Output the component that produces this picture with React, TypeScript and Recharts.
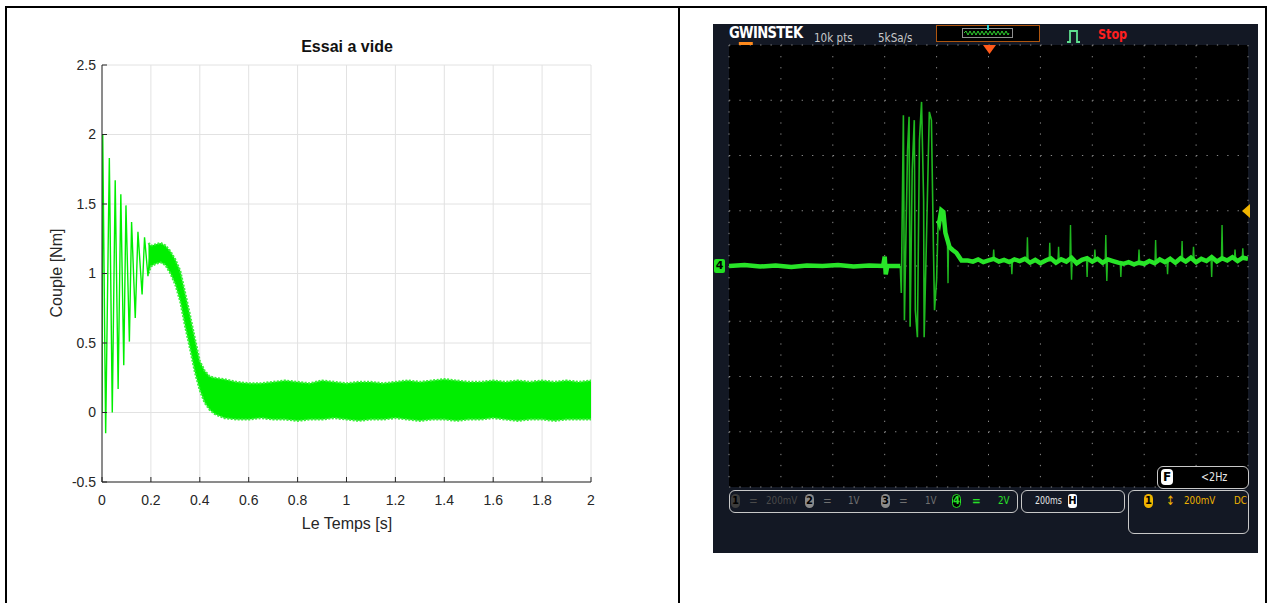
import React from "react";
import { ComposedChart, LineChart, Line, Area, XAxis, YAxis, CartesianGrid } from "recharts";

// ---------- left panel: simulated torque, "Essai a vide"
const timeTicks = [0, 0.2, 0.4, 0.6, 0.8, 1, 1.2, 1.4, 1.6, 1.8, 2];
const coupleTicks = [-0.5, 0, 0.5, 1, 1.5, 2, 2.5];

// start-up oscillation, turning points
const startT = [0, 0.003, 0.015, 0.03, 0.042, 0.054, 0.066, 0.077, 0.089, 0.098, 0.112, 0.121, 0.136, 0.147, 0.164, 0.174, 0.188, 0.2];
const startV = [0, 2.0, -0.15, 1.83, 0.0, 1.67, 0.17, 1.57, 0.34, 1.49, 0.51, 1.37, 0.68, 1.3, 0.85, 1.26, 0.98, 1.2];

// ripple band afterwards (lower / upper envelope)
const bandT = [0.19, 0.2, 0.22, 0.24, 0.26, 0.28, 0.3, 0.32, 0.34, 0.36, 0.38, 0.4, 0.42, 0.44, 0.46, 0.5, 0.55, 0.6, 0.65, 0.7, 0.75, 0.8, 0.85, 0.9, 0.95, 1.0, 1.05, 1.1, 1.15, 1.2, 1.25, 1.3, 1.35, 1.4, 1.45, 1.5, 1.55, 1.6, 1.65, 1.7, 1.75, 1.8, 1.85, 1.9, 1.95, 2.0];
const bandHi = [1.22, 1.2, 1.21, 1.22, 1.2, 1.16, 1.1, 1.02, 0.86, 0.7, 0.53, 0.37, 0.3, 0.26, 0.25, 0.24, 0.22, 0.21, 0.21, 0.22, 0.23, 0.22, 0.21, 0.23, 0.22, 0.21, 0.22, 0.22, 0.21, 0.22, 0.23, 0.22, 0.23, 0.24, 0.23, 0.22, 0.22, 0.23, 0.22, 0.23, 0.22, 0.23, 0.22, 0.23, 0.22, 0.23];
const bandLo = [1.0, 1.05, 1.07, 1.08, 1.06, 1.0, 0.92, 0.8, 0.62, 0.46, 0.29, 0.16, 0.07, 0.02, -0.01, -0.04, -0.05, -0.05, -0.04, -0.05, -0.05, -0.06, -0.05, -0.05, -0.04, -0.05, -0.06, -0.05, -0.05, -0.04, -0.05, -0.06, -0.05, -0.05, -0.06, -0.05, -0.05, -0.04, -0.05, -0.06, -0.05, -0.05, -0.06, -0.05, -0.05, -0.05];

// ---------- right panel: scope capture, values in divisions
const divX = [0, 1, 2, 3, 4, 5, 6, 7, 8, 9, 10];
const divY = [-4, -3, -2, -1, 0, 1, 2, 3, 4];
const fineX = Array.from({ length: 51 }, (_, i) => i / 5);
const fineY = Array.from({ length: 41 }, (_, i) => -4 + i / 5);

const preX = [0, 0.3, 0.6, 0.9, 1.2, 1.5, 1.8, 2.1, 2.4, 2.7, 2.97, 3.0, 3.02, 3.05, 3.3];
const preY = [0, 0.02, -0.01, 0.01, -0.02, 0.01, 0, 0.02, -0.01, 0.01, 0, 0.17, -0.15, 0, 0];

const burstX = [3.3, 3.32, 3.36, 3.38, 3.44, 3.47, 3.49, 3.53, 3.57, 3.59, 3.63, 3.67, 3.71, 3.75, 3.76, 3.8, 3.86, 3.9, 3.94, 3.96, 4.0, 4.03];
const burstY = [0, -0.49, 2.73, -0.98, 2.1, 2.7, -1.1, 1.74, 2.64, -0.8, -1.29, 2.28, 2.97, 1.19, -1.29, 0.29, 2.79, 2.64, 0.29, -0.8, -0.25, 0.83];

const postX = [4.03, 4.05, 4.09, 4.13, 4.17, 4.21, 4.25, 4.31, 4.38, 4.48, 4.6, 4.7, 4.8, 4.9, 5.0, 5.1, 5.2, 5.3, 5.4, 5.5, 5.6, 5.7, 5.8, 5.9, 6.0, 6.1, 6.2, 6.3, 6.4, 6.5, 6.6, 6.7, 6.8, 6.9, 7.0, 7.1, 7.2, 7.3, 7.4, 7.5, 7.6, 7.7, 7.8, 7.9, 8.0, 8.1, 8.2, 8.3, 8.4, 8.5, 8.6, 8.7, 8.8, 8.9, 9.0, 9.1, 9.2, 9.3, 9.4, 9.5, 9.6, 9.7, 9.8, 9.9, 10];
const postY = [0.83, 0.78, 1.01, 0.98, 0.6, 0.47, 0.34, 0.29, 0.24, 0.1, 0.1, 0.08, 0.12, 0.07, 0.1, 0.13, 0.08, 0.11, 0.07, 0.12, 0.09, 0.13, 0.06, 0.11, 0.05, 0.1, 0.14, 0.06, 0.12, 0.08, 0.15, 0.05, 0.11, 0.14, 0.08, 0.13, 0.06, 0.12, 0.09, 0.06, 0.04, 0.07, 0.03, 0.06, 0.04, 0.09, 0.05, 0.12, 0.07, 0.13, 0.06, 0.14, 0.08, 0.15, 0.07, 0.13, 0.09, 0.16, 0.08, 0.14, 0.1, 0.16, 0.09, 0.15, 0.13];

const spikeX = [4.22, 5.1, 5.45, 5.75, 6.18, 6.35, 6.58, 6.6, 6.9, 7.05, 7.26, 7.28, 7.55, 7.9, 8.22, 8.45, 8.73, 8.95, 9.3, 9.5, 9.75, 9.9];
const spikeTop = [-0.31, 0.3, -0.15, 0.52, 0.42, 0.35, 0.74, -0.25, -0.2, 0.3, 0.56, -0.27, -0.2, 0.3, 0.47, -0.15, 0.45, 0.35, -0.2, 0.74, 0.3, 0.32];
const spikeBase = [0.45, 0.12, 0.09, 0.1, 0.08, 0.08, 0.12, 0.12, 0.12, 0.12, 0.08, 0.08, 0.05, 0.06, 0.08, 0.08, 0.1, 0.12, 0.14, 0.13, 0.14, 0.14];

const SANS = "'Liberation Sans', Arial, Helvetica, sans-serif";
const COND = "'DejaVu Sans', 'Liberation Sans', sans-serif";
const MGREEN = "#00ee00";
const SGREEN = "#28e428";

const zip = (xs: number[], ys: number[]) => xs.map((x, i) => ({ x, y: ys[i] }));

function Txt({ x, y, size = 12, color = "#ccc", bold = false, font = COND, children, w, align, sx = 0.8 }: any) {
  return (
    <div style={{
      position: "absolute", left: x, top: y, fontSize: size, lineHeight: `${size + 2}px`,
      color, fontWeight: bold ? 700 : 400, fontFamily: font, whiteSpace: "nowrap",
      width: w, textAlign: align, transform: sx !== 1 ? `scaleX(${sx})` : undefined, transformOrigin: "left center",
    }}>{children}</div>
  );
}

function Badge({ x, y, bg, fg = "#000", label, border, round = 5 }: any) {
  return (
    <div style={{
      position: "absolute", left: x, top: y, width: 9, height: 14, borderRadius: round, boxSizing: "border-box",
      background: bg, border: border ? `1.5px solid ${border}` : undefined, color: fg,
      fontSize: 10, lineHeight: border ? "11px" : "14px", textAlign: "center", fontWeight: 700, fontFamily: COND,
    }}>{label}</div>
  );
}

function SimChart() {
  const start = startT.map((t, i) => ({ t, v: startV[i] }));
  const band = bandT.map((t, i) => ({ t, r: [bandLo[i], bandHi[i]] }));
  const tick = { fill: "#262626", fontSize: 14, fontFamily: SANS };
  return (
    <ComposedChart width={679} height={560} margin={{ top: 65, right: 88, bottom: 38, left: 52 }}>
      <CartesianGrid stroke="#e2e2e2" />
      <XAxis dataKey="t" type="number" domain={[0, 2]} ticks={timeTicks} interval={0} allowDataOverflow
        height={40} stroke="#262626" tickSize={-5} tickMargin={18} tick={tick} />
      <YAxis type="number" domain={[-0.5, 2.5]} ticks={coupleTicks} interval={0} allowDataOverflow
        width={50} stroke="#262626" tickSize={-5} tickMargin={11} tick={tick} />
      <XAxis xAxisId="top" orientation="top" dataKey="t" type="number" domain={[0, 2]} ticks={timeTicks}
        interval={0} allowDataOverflow height={0} mirror tickSize={5} tickFormatter={() => ""} stroke="#262626" />
      <YAxis yAxisId="right" orientation="right" type="number" domain={[-0.5, 2.5]} ticks={coupleTicks}
        interval={0} allowDataOverflow width={0} mirror tickSize={5} tickFormatter={() => ""} stroke="#262626" />
      <Area data={band} dataKey="r" type="linear" stroke="#3af03a" fill={MGREEN} fillOpacity={1}
        strokeWidth={2.2} strokeDasharray="2 1.5" isAnimationActive={false} dot={false} activeDot={false} />
      <Line data={start} dataKey="v" type="linear" stroke={MGREEN} strokeWidth={1.4}
        dot={false} activeDot={false} isAnimationActive={false} />
    </ComposedChart>
  );
}

function ScopeChart() {
  const pre = zip(preX, preY);
  const burst = zip(burstX, burstY);
  const post = zip(postX, postY);
  const spikes = spikeX.flatMap((x, i) => [
    { x: x - 0.012, y: spikeBase[i] }, { x, y: spikeTop[i] }, { x: x + 0.012, y: spikeBase[i] }, { x: x + 0.02, y: null },
  ]);
  const edge = { stroke: "#6a6a6a" };
  return (
    <LineChart width={545} height={529} margin={{ top: 21, right: 10, bottom: 66, left: 16 }}>
      <CartesianGrid horizontal={false} stroke="#8a8a8a" strokeDasharray="1.3 9.75" />
      <CartesianGrid vertical={false} stroke="#8a8a8a" strokeDasharray="1.3 9.08" />
      <XAxis dataKey="x" type="number" domain={[0, 10]} ticks={divX} interval={0} allowDataOverflow
        height={0} axisLine={false} tickLine={false} tickFormatter={() => ""} />
      <YAxis type="number" domain={[-4, 4]} ticks={divY} interval={0} allowDataOverflow
        width={0} axisLine={false} tickLine={false} tickFormatter={() => ""} />
      <XAxis xAxisId="t" orientation="top" type="number" domain={[0, 10]} ticks={fineX} interval={0}
        allowDataOverflow height={0} mirror tickSize={3} tickFormatter={() => ""} {...edge} />
      <XAxis xAxisId="b" orientation="bottom" type="number" domain={[0, 10]} ticks={fineX} interval={0}
        allowDataOverflow height={0} mirror tickSize={3} tickFormatter={() => ""} {...edge} />
      <YAxis yAxisId="l" orientation="left" type="number" domain={[-4, 4]} ticks={fineY} interval={0}
        allowDataOverflow width={0} mirror tickSize={3} tickFormatter={() => ""} {...edge} />
      <YAxis yAxisId="r" orientation="right" type="number" domain={[-4, 4]} ticks={fineY} interval={0}
        allowDataOverflow width={0} mirror tickSize={3} tickFormatter={() => ""} {...edge} />
      <Line data={burst} dataKey="y" type="linear" stroke="#1fb81f" strokeWidth={1.6} dot={false}
        activeDot={false} isAnimationActive={false} />
      <Line data={spikes} dataKey="y" type="linear" stroke="#1fb81f" strokeWidth={1.4} dot={false}
        activeDot={false} isAnimationActive={false} connectNulls={false} />
      <Line data={pre} dataKey="y" type="linear" stroke={SGREEN} strokeWidth={4.5} dot={false}
        activeDot={false} isAnimationActive={false} />
      <Line data={post} dataKey="y" type="linear" stroke={SGREEN} strokeWidth={4.5} dot={false}
        activeDot={false} isAnimationActive={false} />
    </LineChart>
  );
}

const boxStyle = (x: number, y: number, w: number, h: number): React.CSSProperties => ({
  position: "absolute", left: x, top: y, width: w, height: h, border: "1.5px solid #c8c8c8",
  borderRadius: 6, boxSizing: "border-box", background: "#000",
});

export default function App() {
  return (
    <div style={{ position: "absolute", left: 0, top: 0, width: 1268, height: 603, background: "#fff", overflow: "hidden" }}>
      {/* table rules */}
      <div style={{ position: "absolute", left: 5, top: 6, width: 1262, height: 2, background: "#000" }} />
      <div style={{ position: "absolute", left: 5, top: 6, width: 2, height: 600, background: "#000" }} />
      <div style={{ position: "absolute", left: 678, top: 6, width: 2, height: 600, background: "#000" }} />
      <div style={{ position: "absolute", left: 1265, top: 6, width: 2, height: 600, background: "#000" }} />

      {/* left: simulation */}
      <div style={{ position: "absolute", left: 0, top: 0 }}>
        <SimChart />
      </div>
      <Txt x={247} y={38} w={200} align="center" size={16} bold color="#111" font={SANS} sx={1}>Essai a vide</Txt>
      <Txt x={247} y={515} w={200} align="center" size={16} color="#262626" font={SANS} sx={1}>Le Temps [s]</Txt>
      <div style={{
        position: "absolute", left: -13, top: 264, width: 140, height: 18, transform: "rotate(-90deg)",
        fontFamily: SANS, fontSize: 16, lineHeight: "18px", textAlign: "center", color: "#262626",
      }}>Couple [Nm]</div>

      {/* right: scope screen */}
      <div style={{ position: "absolute", left: 713, top: 24, width: 545, height: 529, background: "#131824" }} />
      <div style={{ position: "absolute", left: 729, top: 45, width: 519, height: 442, background: "#000" }} />
      <div style={{ position: "absolute", left: 713, top: 24 }}>
        <ScopeChart />
      </div>

      {/* header */}
      <div style={{ position: "absolute", left: 729, top: 24, fontFamily: COND, fontSize: 16, lineHeight: "18px", fontWeight: 700, color: "#fff", letterSpacing: -0.8, transform: "scaleX(0.82)", transformOrigin: "left center" }}>
        G<span style={{ borderBottom: "3px solid #ff8a1c" }}>W</span>INSTEK
      </div>
      <Txt x={814} y={30} size={13} color="#c8c8c8">10k pts</Txt>
      <Txt x={878} y={30} size={13} color="#c8c8c8">5kSa/s</Txt>
      <div style={{ position: "absolute", left: 936, top: 25, width: 104, height: 17, border: "1px solid #b0560f", boxSizing: "border-box", background: "#000" }} />
      <div style={{ position: "absolute", left: 962, top: 28, width: 51, height: 10, border: "1px solid #909090", boxSizing: "border-box" }} />
      <svg style={{ position: "absolute", left: 964, top: 30 }} width={47} height={6}>
        <path d="M0 3 l2 -2 l2 4 l2 -4 l2 4 l2 -4 l2 4 l2 -4 l2 4 l2 -4 l2 4 l2 -4 l2 4 l2 -4 l2 4 l2 -4 l2 4 l2 -4 l2 4 l2 -4 l2 4 l2 -4 l2 4 l1 -2" stroke="#2fd02f" fill="none" strokeWidth={1} />
      </svg>
      <div style={{ position: "absolute", left: 987, top: 25, width: 2, height: 5, background: "#2ad0d0" }} />
      <svg style={{ position: "absolute", left: 1066, top: 29 }} width={15} height={14}>
        <path d="M1 13 H4 V2 H11 V13 H14" stroke="#5fe08f" strokeWidth={1.8} fill="none" />
      </svg>
      <Txt x={1098} y={26} size={14} bold color="#ff1f1f">Stop</Txt>
      <svg style={{ position: "absolute", left: 983, top: 45 }} width={13} height={9}>
        <path d="M0 0 H13 L6.5 9 Z" fill="#ff5a1a" />
      </svg>

      {/* side markers */}
      <div style={{ position: "absolute", left: 714, top: 259, width: 11, height: 14, background: "#22e022", borderRadius: 2, color: "#000", fontSize: 11, lineHeight: "14px", textAlign: "center", fontFamily: COND, fontWeight: 700 }}>4</div>
      <svg style={{ position: "absolute", left: 1242, top: 204 }} width={8} height={14}>
        <path d="M8 0 V14 L0 7 Z" fill="#f0b400" />
      </svg>

      {/* bottom status boxes */}
      <div style={boxStyle(1157, 466, 92, 23)} />
      <div style={{ position: "absolute", left: 1161, top: 469, width: 12, height: 16, borderRadius: 4, background: "#fff", color: "#000", fontSize: 12, lineHeight: "16px", textAlign: "center", fontWeight: 700, fontFamily: COND }}>F</div>
      <Txt x={1201} y={470} size={12} color="#e8e8e8">&lt;2Hz</Txt>

      <div style={{ ...boxStyle(729, 490, 289, 23), background: "transparent" }} />
      <Badge x={731} y={494} bg="#3c3c3c" label="1" />
      <Txt x={749} y={493} size={13} color="#4a4a4a">=</Txt>
      <Txt x={766} y={494} size={11} color="#4a4a4a">200mV</Txt>
      <Badge x={805} y={494} bg="#8a8a8a" label="2" />
      <Txt x={823} y={493} size={13} color="#707070">=</Txt>
      <Txt x={848} y={494} size={11} color="#707070">1V</Txt>
      <Badge x={881} y={494} bg="#8a8a8a" label="3" />
      <Txt x={899} y={493} size={13} color="#707070">=</Txt>
      <Txt x={925} y={494} size={11} color="#707070">1V</Txt>
      <Badge x={952} y={494} bg="#000" fg="#28e028" border="#28e028" label="4" />
      <Txt x={972} y={493} size={13} bold color="#28e028">=</Txt>
      <Txt x={998} y={494} size={11} color="#28e028">2V</Txt>

      <div style={{ ...boxStyle(1021, 490, 104, 23), background: "transparent" }} />
      <Txt x={1035} y={494} size={11} color="#e8e8e8" sx={0.72}>200ms</Txt>
      <div style={{ position: "absolute", left: 1068, top: 494, width: 9, height: 14, borderRadius: 3, background: "#fff", color: "#000", fontSize: 10, lineHeight: "14px", textAlign: "center", fontWeight: 700, fontFamily: COND }}>H</div>

      <div style={{ ...boxStyle(1128, 490, 121, 44), background: "transparent" }} />
      <Badge x={1144} y={494} bg="#f0b400" label="1" />
      <Txt x={1166} y={493} size={13} color="#f0b400">↕</Txt>
      <Txt x={1184} y={494} size={11} color="#f0b400">200mV</Txt>
      <Txt x={1234} y={494} size={11} color="#f0b400">DC</Txt>
    </div>
  );
}
